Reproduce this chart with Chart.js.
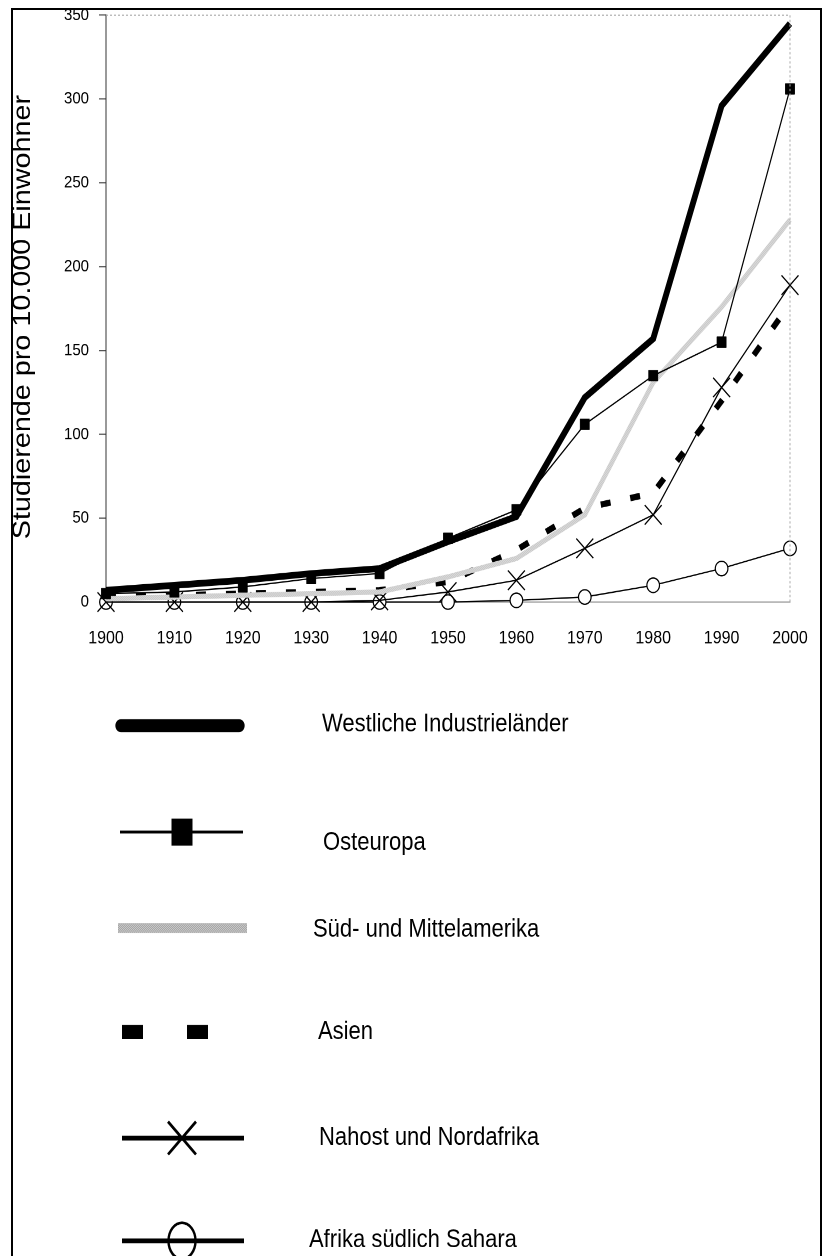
<!DOCTYPE html>
<html lang="de">
<head>
<meta charset="utf-8">
<script src="https://cdn.jsdelivr.net/npm/chart.js@4.4.1/dist/chart.umd.min.js"></script>
<style>
  html, body { margin: 0; padding: 0; background: #fff; overflow: hidden; }
  /* das Original ist vertikal gestreckt (~1.15) */
  #stretch { position: absolute; left: 0; top: 0; width: 823px; height: 1092px; transform: scaleY(1.15); transform-origin: 0 0; }
  #frame { position: absolute; left: 11px; top: 8px; width: 811px; height: 1300px; border: 2px solid #000; box-sizing: border-box; pointer-events: none; }
</style>
</head>
<body>
<div id="stretch"><canvas id="chart" width="823" height="1092"></canvas></div>
<div id="frame"></div>
<script>
const jahre = ['1900', '1910', '1920', '1930', '1940', '1950', '1960', '1970', '1980', '1990', '2000'];

const westlich    = [7, 10, 13, 17, 20, 36, 51, 122, 157, 296, 345];
const osteuropa   = [5, 6, 9, 14, 17, 38, 55, 106, 135, 155, 306];
const suedamerika = [2, 3, 4, 5, 6, 15, 26, 52, 131, 176, 228];
const asien       = [3, 4, 5, 6, 7, 12, 31, 56, 65, 120, 178];
const nahost      = [0, 0, 0, 0, 1, 6, 13, 32, 52, 128, 189];
const afrika      = [0, 0, 0, 0, 0, 0, 1, 3, 10, 20, 32];

const achsenTitel = 'Studierende pro 10.000 Einwohner';
const FONT = '"Liberation Sans", Arial, sans-serif';

// grau gepunktetes Muster für Süd- und Mittelamerika
function punktMuster(hell, dunkel) {
  const c = document.createElement('canvas');
  c.width = 2; c.height = 2;
  const g = c.getContext('2d');
  g.fillStyle = hell; g.fillRect(0, 0, 2, 2);
  g.fillStyle = dunkel; g.fillRect(0, 0, 1, 1); g.fillRect(1, 1, 1, 1);
  return g.createPattern(c, 'repeat');
}

const ctx = document.getElementById('chart').getContext('2d');
const grauPlot = punktMuster('#efefef', '#b4b4b4');
const grauLegende = punktMuster('#f4f4f4', '#7a7a7a');

// Legende: Zeilen unter dem Diagramm (logische Koordinaten, vor der Streckung)
const legendenZeilen = [
  { y: 631, textY: 630, textX: 322, x0: 121, x1: 239 },
  { y: 723.5, textY: 733, textX: 323, x0: 120, x1: 243 },
  { y: 807, textY: 808.5, textX: 313, x0: 118, x1: 247 },
  { y: 897.4, textY: 897.4, textX: 318, x0: 122, x1: 208 },
  { y: 989.6, textY: 989.6, textX: 319, x0: 122, x1: 244 },
  { y: 1079, textY: 1078.3, textX: 309, x0: 122, x1: 244 }
];

const rahmenUndLegende = {
  id: 'rahmenUndLegende',
  afterDraw(chart) {
    const c = chart.ctx;
    const a = chart.chartArea;

    // gepunkteter Rahmen oben und rechts
    c.save();
    c.strokeStyle = '#aaa';
    c.lineWidth = 1;
    c.setLineDash([2, 2]);
    c.beginPath();
    c.moveTo(a.left, a.top); c.lineTo(a.right, a.top); c.lineTo(a.right, a.bottom);
    c.stroke();
    c.restore();

    // Achsentitel
    c.save();
    c.translate(23, 275.7);
    c.rotate(-Math.PI / 2);
    c.font = '25px ' + FONT;
    c.fillStyle = '#000';
    c.textAlign = 'center';
    c.textBaseline = 'middle';
    c.fillText(achsenTitel, 0, 0);
    c.restore();

    // Legende
    chart.data.datasets.forEach((ds, i) => {
      const z = legendenZeilen[i];
      const s = ds.legende;
      c.save();
      if (s.band) {
        c.fillStyle = grauLegende;
        c.fillRect(z.x0, z.y - s.breite / 2, z.x1 - z.x0, s.breite);
      } else {
        c.strokeStyle = '#000';
        c.lineWidth = s.breite;
        c.lineCap = s.rund ? 'round' : 'butt';
        c.setLineDash(s.dash || []);
        c.beginPath();
        c.moveTo(z.x0, z.y);
        c.lineTo(z.x1, z.y);
        c.stroke();
        c.setLineDash([]);
      }
      const mx = 182;
      if (ds.pointStyle === 'rect') {
        c.fillStyle = '#000';
        c.fillRect(mx - 10.5, z.y - 11.7, 21, 23.5);
      } else if (ds.pointStyle === 'crossRot') {
        c.strokeStyle = '#000';
        c.lineWidth = 2.6;
        c.beginPath();
        c.moveTo(mx - 14, z.y - 14.3); c.lineTo(mx + 14, z.y + 14.3);
        c.moveTo(mx + 14, z.y - 14.3); c.lineTo(mx - 14, z.y + 14.3);
        c.stroke();
      } else if (ds.pointStyle === 'circle') {
        c.strokeStyle = '#000';
        c.lineWidth = 2.4;
        c.beginPath();
        c.ellipse(mx, z.y, 13.5, 15.7, 0, 0, Math.PI * 2);
        c.stroke();
      }
      c.font = '22px ' + FONT;
      c.fillStyle = '#000';
      c.textAlign = 'left';
      c.textBaseline = 'middle';
      c.fillText(ds.label, z.textX, z.textY);
      c.restore();
    });
  }
};

new Chart(ctx, {
  type: 'line',
  data: {
    labels: jahre,
    datasets: [
      {
        label: 'Westliche Industrieländer',
        data: westlich,
        borderColor: '#000',
        borderWidth: 5.8,
        pointRadius: 0,
        legende: { breite: 11.3, rund: true }
      },
      {
        label: 'Osteuropa',
        data: osteuropa,
        borderColor: '#000',
        borderWidth: 1.2,
        pointStyle: 'rect',
        pointRadius: 6.6,
        pointBackgroundColor: '#000',
        pointBorderColor: '#000',
        pointBorderWidth: 0.5,
        legende: { breite: 2.6 }
      },
      {
        label: 'Süd- und Mittelamerika',
        data: suedamerika,
        borderColor: grauPlot,
        borderWidth: 4.5,
        pointRadius: 0,
        legende: { breite: 8.7, band: true }
      },
      {
        label: 'Asien',
        data: asien,
        borderColor: '#000',
        borderWidth: 5.5,
        borderDash: [10, 20],
        pointRadius: 0,
        legende: { breite: 12.2, dash: [21, 44] }
      },
      {
        label: 'Nahost und Nordafrika',
        data: nahost,
        borderColor: '#000',
        borderWidth: 1.2,
        pointStyle: 'crossRot',
        pointRadius: 12,
        pointBorderColor: '#000',
        pointBorderWidth: 1.2,
        legende: { breite: 4.3 }
      },
      {
        label: 'Afrika südlich Sahara',
        data: afrika,
        borderColor: '#000',
        borderWidth: 1.2,
        pointStyle: 'circle',
        pointRadius: 6.3,
        pointBackgroundColor: '#fff',
        pointBorderColor: '#000',
        pointBorderWidth: 1.2,
        legende: { breite: 4.3 }
      }
    ]
  },
  options: {
    responsive: false,
    animation: false,
    devicePixelRatio: 2,
    clip: false,
    layout: { padding: { top: 13, bottom: 528.5, left: 0, right: 33 } },
    elements: { line: { tension: 0, borderJoinStyle: 'miter' } },
    plugins: { legend: { display: false }, tooltip: { enabled: false } },
    scales: {
      x: {
        offset: false,
        afterFit: s => { s.height = 40; s.paddingLeft = 0; s.paddingRight = 0; },
        grid: { display: false, drawTicks: false },
        border: { display: true, color: '#999', dash: [2, 2] },
        ticks: { color: '#000', font: { family: FONT, size: 16 }, padding: 22, maxRotation: 0, autoSkip: false }
      },
      y: {
        min: 0,
        max: 350,
        afterFit: s => { s.width = 106; s.paddingTop = 0; s.paddingBottom = 0; },
        grid: { drawOnChartArea: false, drawTicks: true, tickLength: 7, color: '#555' },
        border: { display: true, color: '#333', dash: [1, 1] },
        ticks: { stepSize: 50, color: '#000', font: { family: FONT, size: 15 }, padding: 10 }
      }
    }
  },
  plugins: [rahmenUndLegende]
});
</script>
</body>
</html>
